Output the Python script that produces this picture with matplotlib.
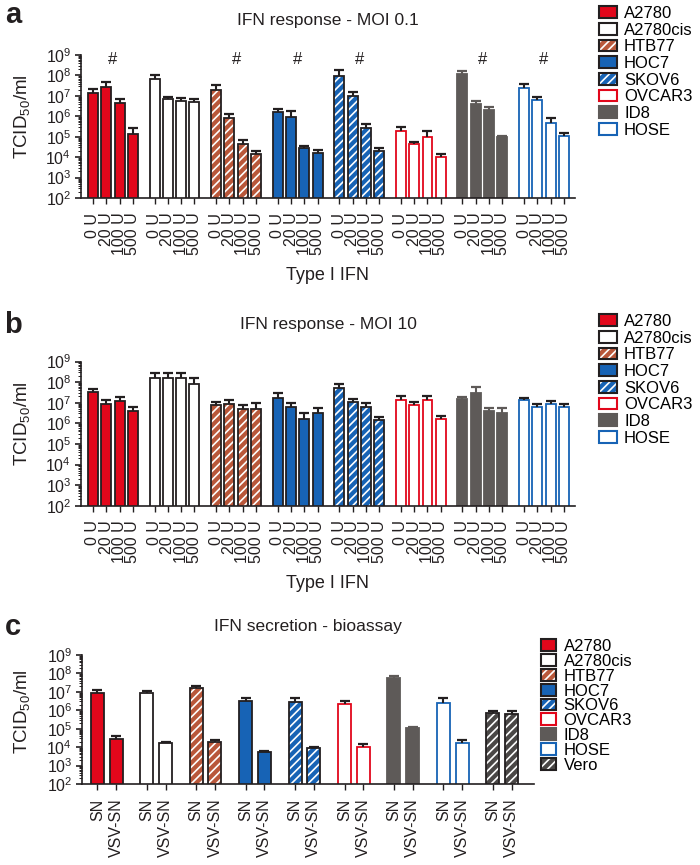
import matplotlib
matplotlib.use("Agg")
import matplotlib.pyplot as plt
import numpy as np
from matplotlib.patches import Patch
from matplotlib.ticker import LogLocator, NullFormatter, FuncFormatter

plt.rcParams['font.family'] = ['Liberation Sans', 'DejaVu Sans']
plt.rcParams['mathtext.fontset'] = 'custom'
plt.rcParams['mathtext.rm'] = 'Liberation Sans'
plt.rcParams['mathtext.it'] = 'Liberation Sans:italic'
plt.rcParams['hatch.linewidth'] = 1.2

# ---- data ----
cell_lines = ["A2780", "A2780cis", "HTB77", "HOC7", "SKOV6", "OVCAR3", "ID8", "HOSE"]
bio_lines = cell_lines + ["Vero"]
doses = ["0 U", "20 U", "100 U", "500 U"]
supernatants = ["SN", "VSV-SN"]

# panel a: MOI 0.1, mean and top of error bar, one row per cell line
moi01_mean = [[1.4e7, 2.7e7, 4.4e6, 1.4e5],
              [6.6e7, 6.9e6, 5.9e6, 5.2e6],
              [1.9e7, 8.1e5, 4.3e4, 1.4e4],
              [1.6e6, 9.7e5, 2.8e4, 1.6e4],
              [9.5e7, 1.0e7, 2.6e5, 2.0e4],
              [2.0e5, 4.3e4, 1.0e5, 1.05e4],
              [1.2e8, 3.9e6, 2.0e6, 9.8e4],
              [2.4e7, 6.3e6, 4.9e5, 1.1e5]]
moi01_upper = [[2.1e7, 5.0e7, 7.0e6, 2.6e5],
               [1.07e8, 9.3e6, 8.3e6, 7.1e6],
               [3.5e7, 1.26e6, 6.9e4, 2.1e4],
               [2.3e6, 1.8e6, 3.7e4, 2.2e4],
               [1.9e8, 1.6e7, 4.1e5, 2.9e4],
               [3.1e5, 5.6e4, 1.8e5, 1.4e4],
               [1.7e8, 5.3e6, 2.9e6, 1.05e5],
               [3.7e7, 8.7e6, 7.8e5, 1.5e5]]
moi01_signif = [True, False, True, True, True, False, True, True]

# panel b: MOI 10
moi10_mean = [[3.4e7, 8.7e6, 1.2e7, 4.0e6],
              [1.5e8, 1.5e8, 1.5e8, 8.1e7],
              [7.4e6, 8.7e6, 5.1e6, 4.8e6],
              [1.7e7, 6.0e6, 1.7e6, 3.1e6],
              [5.4e7, 1.05e7, 6.5e6, 1.45e6],
              [1.35e7, 7.8e6, 1.35e7, 1.7e6],
              [1.45e7, 3.1e7, 4.0e6, 3.2e6],
              [1.35e7, 6.5e6, 8.3e6, 6.0e6]]
moi10_upper = [[4.5e7, 1.4e7, 1.9e7, 6.0e6],
               [2.9e8, 2.9e8, 2.9e8, 1.5e8],
               [1.1e7, 1.35e7, 7.8e6, 9.3e6],
               [3.1e7, 1.0e7, 3.1e6, 5.4e6],
               [7.8e7, 1.45e7, 1.0e7, 2.1e6],
               [2.1e7, 1.1e7, 2.1e7, 2.2e6],
               [1.8e7, 5.6e7, 5.8e6, 5.8e6],
               [1.6e7, 8.7e6, 1.2e7, 8.3e6]]

# panel c: bioassay, SN and VSV-SN
sn_mean = [9.1e6, 8.5e6, 1.6e7, 3.0e6, 2.8e6, 2.1e6, 5.5e7, 2.6e6, 6.9e5]
sn_upper = [1.2e7, 1.1e7, 2.1e7, 4.9e6, 4.9e6, 3.0e6, 7.1e7, 4.9e6, 9.5e5]
vsv_mean = [2.8e4, 1.6e4, 1.9e4, 5.3e3, 8.7e3, 1.07e4, 1.07e5, 1.6e4, 6.3e5]
vsv_upper = [4.1e4, 2.0e4, 2.5e4, 6.0e3, 9.8e3, 1.5e4, 1.25e5, 2.5e4, 9.3e5]

# ---- styles ----
RED = '#E2071B'
BLUE = '#1763B5'
BROWN = '#B9573A'
GRAY = '#5E5A58'
INK = '#231F20'
styles = {
    "A2780":    dict(face=RED, edge=INK, hatch=None),
    "A2780cis": dict(face='white', edge=INK, hatch=None),
    "HTB77":    dict(face=BROWN, edge=INK, hatch='////'),
    "HOC7":     dict(face=BLUE, edge=INK, hatch=None),
    "SKOV6":    dict(face=BLUE, edge=INK, hatch='////'),
    "OVCAR3":   dict(face='white', edge=RED, hatch=None),
    "ID8":      dict(face=GRAY, edge=GRAY, hatch=None),
    "HOSE":     dict(face='white', edge=BLUE, hatch=None),
    "Vero":     dict(face='#4A4746', edge=INK, hatch='////'),
}

W, H = 700, 865
fig = plt.figure(figsize=(W / 100, H / 100), dpi=100)


def px_axes(left, top, right, bottom):
    return fig.add_axes([left / W, 1 - bottom / H, (right - left) / W, (bottom - top) / H])


def draw_bars(ax, x, vals, upper, st, width):
    vals = np.asarray(vals)
    if st['hatch']:
        ax.bar(x, vals, width, color=st['face'], edgecolor='white', hatch=st['hatch'], linewidth=0)
        ax.bar(x, vals, width, fill=False, edgecolor=st['edge'], linewidth=1.3)
    else:
        ax.bar(x, vals, width, color=st['face'], edgecolor=st['edge'], linewidth=1.3)
    ecol = st['edge'] if st['edge'] == GRAY else INK
    err = [np.zeros_like(vals), np.asarray(upper) - vals]
    _, caps, _ = ax.errorbar(x, vals, yerr=err, fmt='none', ecolor=ecol,
                             elinewidth=1.5, capsize=3.5, capthick=1.6)
    caps[0].set_visible(False)


def style_axis(ax):
    ax.set_yscale('log')
    ax.set_ylim(1e2, 1e9)
    ax.yaxis.set_major_locator(LogLocator(base=10, numticks=12))
    ax.yaxis.set_minor_locator(LogLocator(base=10, subs=np.arange(2, 10), numticks=12))
    ax.yaxis.set_minor_formatter(NullFormatter())
    ax.yaxis.set_major_formatter(FuncFormatter(
        lambda v, _: r'$\mathregular{10^{%d}}$' % round(np.log10(v))))
    for s in ['top', 'right']:
        ax.spines[s].set_visible(False)
    for s in ['left', 'bottom']:
        ax.spines[s].set_linewidth(1.2)
        ax.spines[s].set_color(INK)
    ax.tick_params(axis='y', which='major', length=4, width=1.2, labelsize=11.5, pad=3, colors=INK)
    ax.tick_params(axis='y', which='minor', length=2, width=0.7, colors=INK)
    ax.tick_params(axis='x', length=4, width=1.0, pad=6.5, labelsize=11.5, colors=INK)


def legend_for(ax, names, left, top, spacing, hlen):
    handles = []
    for n in names:
        st = styles[n]
        if st['hatch']:
            h = (Patch(facecolor=st['face'], edgecolor='white', hatch=st['hatch'], linewidth=0),
                 Patch(fill=False, edgecolor=st['edge'], linewidth=1.5))
        else:
            h = Patch(facecolor=st['face'], edgecolor=st['edge'], linewidth=1.5)
        handles.append(h)
    ax.legend(handles, names, loc='upper left', bbox_to_anchor=(left / W, 1 - top / H),
              bbox_transform=fig.transFigure, frameon=False, borderpad=0, borderaxespad=0,
              handlelength=hlen, handleheight=0.72, handletextpad=0.45,
              labelspacing=spacing, fontsize=12)


# ---- panels a and b ----
group_pitch = 4.63
bar_w = 0.75
dose_pos = np.arange(len(doses))


def dose_panel(top, bottom, means, uppers, title, letter, title_y, letter_base, xlab_y, leg_top,
               signif=None):
    ax = px_axes(81, top, 575, bottom)
    ticks = []
    for g, name in enumerate(cell_lines):
        x = g * group_pitch + dose_pos
        draw_bars(ax, x, means[g], uppers[g], styles[name], bar_w)
        ticks.extend(x)
        if signif is not None and signif[g]:
            ax.text(x.mean(), 10 ** 8.78, '#', ha='center', va='center', fontsize=12, color=INK)
    style_axis(ax)
    ax.set_xticks(ticks)
    ax.set_xticklabels(doses * len(cell_lines), rotation=90)
    ax.set_xlim(-0.9, (len(cell_lines) - 1) * group_pitch + 3 + 0.83)
    fig.text(328 / W, 1 - title_y / H, title, ha='center', va='center', fontsize=12.5, color=INK)
    fig.text(13 / W, 1 - letter_base / H, letter, ha='center', va='baseline', fontsize=21,
             fontweight='bold', color=INK)
    fig.text(328 / W, 1 - xlab_y / H, 'Type I IFN', ha='center', va='center', fontsize=13, color=INK)
    fig.text(22 / W, 1 - (top + bottom - 20) / 2 / H, r'TCID$_{50}$/ml', rotation=90,
             ha='center', va='center', fontsize=13.5, color=INK)
    legend_for(ax, cell_lines, 599, leg_top, 0.1, 1.05)
    return ax


dose_panel(55, 198, moi01_mean, moi01_upper, 'IFN response - MOI 0.1', 'a', 21, 23, 275, 6,
           signif=moi01_signif)
dose_panel(361.5, 505.7, moi10_mean, moi10_upper, 'IFN response - MOI 10', 'b', 325, 333, 583, 314)

# ---- panel c ----
c_pitch = 2.64
c_w = 0.7
axc = px_axes(82, 655, 534, 784)
cticks = []
for g, name in enumerate(bio_lines):
    x = g * c_pitch + np.arange(2)
    draw_bars(axc, x, [sn_mean[g], vsv_mean[g]], [sn_upper[g], vsv_upper[g]], styles[name], c_w)
    cticks.extend(x)
style_axis(axc)
axc.set_xticks(cticks)
axc.set_xticklabels(supernatants * len(bio_lines), rotation=90)
axc.set_xlim(-0.82, (len(bio_lines) - 1) * c_pitch + 1 + 1.2)
fig.text(308 / W, 1 - 627 / H, 'IFN secretion - bioassay', ha='center', va='center',
         fontsize=12.5, color=INK)
fig.text(13 / W, 1 - 635 / H, 'c', ha='center', va='baseline', fontsize=21, fontweight='bold',
         color=INK)
fig.text(22 / W, 1 - 712 / H, r'TCID$_{50}$/ml', rotation=90, ha='center', va='center',
         fontsize=13.5, color=INK)
legend_for(axc, bio_lines, 541, 639, -0.01, 0.9)

fig.savefig('out.png', dpi=100)
